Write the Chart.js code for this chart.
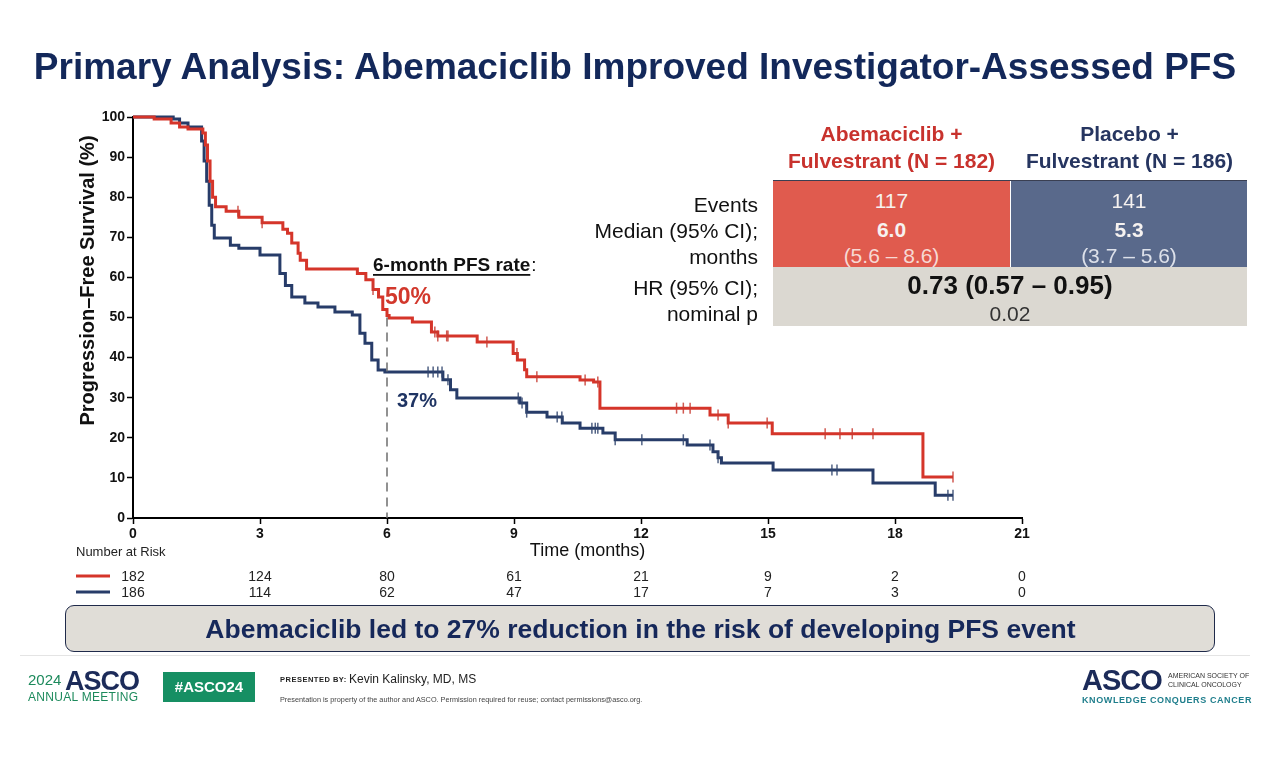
<!DOCTYPE html>
<html><head><meta charset="utf-8">
<script src="https://cdn.jsdelivr.net/npm/chart.js@4.4.1/dist/chart.umd.min.js"></script>
<style>
body{margin:0;width:1280px;height:768px;overflow:hidden;background:#fff;font-family:"Liberation Sans",Arial,sans-serif;position:relative}
#wrap{position:absolute;left:0;top:0;width:1280px;height:768px}
.a{position:absolute;white-space:nowrap}
.title{left:0;width:1270px;top:46px;text-align:center;font-weight:bold;font-size:37px;color:#13285a}
.hdr{font-weight:bold;font-size:21px;text-align:center;line-height:27px}
.lbl{right:522px;font-size:21px;color:#111;text-align:right;line-height:21px}
.cell{font-size:21px;text-align:center;line-height:21px;color:#f6f2f0}
</style></head>
<body>
<div id="wrap"><canvas id="c" width="1280" height="768"></canvas></div>

<div class="a title">Primary Analysis: Abemaciclib Improved Investigator-Assessed PFS</div>

<!-- Table -->
<div class="a hdr" style="left:773px;width:237px;top:120px;color:#c8322d">Abemaciclib +<br>Fulvestrant (N = 182)</div>
<div class="a hdr" style="left:1011px;width:237px;top:120px;color:#263560">Placebo +<br>Fulvestrant (N = 186)</div>
<div class="a" style="left:773px;top:181px;width:237px;height:86px;background:#e05b4e"></div>
<div class="a" style="left:1011px;top:181px;width:236px;height:86px;background:#59698b"></div>
<div class="a" style="left:773px;top:180px;width:474px;height:1px;background:#3a3f52"></div>
<div class="a" style="left:773px;top:267px;width:474px;height:59px;background:#dbd8d1"></div>
<div class="a lbl" style="top:194px">Events</div>
<div class="a lbl" style="top:220px">Median (95% CI);</div>
<div class="a lbl" style="top:246px">months</div>
<div class="a lbl" style="top:277px">HR (95% CI);</div>
<div class="a lbl" style="top:303px">nominal p</div>
<div class="a cell" style="left:773px;width:237px;top:190px">117</div>
<div class="a cell" style="left:773px;width:237px;top:219px;font-weight:bold">6.0</div>
<div class="a cell" style="left:773px;width:237px;top:245px;color:#f7d9d4">(5.6 – 8.6)</div>
<div class="a cell" style="left:1011px;width:236px;top:190px">141</div>
<div class="a cell" style="left:1011px;width:236px;top:219px;font-weight:bold">5.3</div>
<div class="a cell" style="left:1011px;width:236px;top:245px;color:#dde1ea">(3.7 – 5.6)</div>
<div class="a cell" style="left:773px;width:474px;top:271px;font-size:26px;line-height:28px;font-weight:bold;color:#111">0.73 (0.57 – 0.95)</div>
<div class="a cell" style="left:773px;width:474px;top:303px;color:#333">0.02</div>

<!-- Banner -->
<div class="a" style="left:65px;top:605px;width:1148px;height:45px;border:1.5px solid #1f2a4a;border-radius:9px;background:#e0ddd7"></div>
<div class="a" style="left:65px;width:1151px;top:614px;text-align:center;font-weight:bold;font-size:26.5px;color:#16285a">Abemaciclib led to 27% reduction in the risk of developing PFS event</div>
<div class="a" style="left:20px;top:655px;width:1230px;height:1px;background:#e4e4e4"></div>

<!-- Footer -->
<div class="a" style="left:28px;top:671px;font-size:15px;color:#1d8a5c">2024</div>
<div class="a" style="left:65px;top:666px;font-size:27px;font-weight:bold;color:#1c2b59;letter-spacing:-1px">ASCO</div>
<div class="a" style="left:28px;top:690px;font-size:12px;color:#1d8a5c;letter-spacing:0.3px">ANNUAL MEETING</div>
<div class="a" style="left:163px;top:672px;width:92px;height:30px;background:#168f63;color:#fff;font-weight:bold;font-size:15px;text-align:center;line-height:30px">#ASCO24</div>
<div class="a" style="left:280px;top:675px;font-size:7.5px;font-weight:bold;color:#222;letter-spacing:0.5px">PRESENTED BY:</div>
<div class="a" style="left:349px;top:672px;font-size:12px;color:#222">Kevin Kalinsky, MD, MS</div>
<div class="a" style="left:280px;top:695px;font-size:7.3px;color:#444">Presentation is property of the author and ASCO. Permission required for reuse; contact permissions@asco.org.</div>
<div class="a" style="left:1082px;top:664px;font-size:29px;font-weight:bold;color:#1c2b59;letter-spacing:-1px">ASCO</div>
<div class="a" style="left:1168px;top:671px;font-size:7px;color:#333;line-height:9px">AMERICAN SOCIETY OF<br>CLINICAL ONCOLOGY</div>
<div class="a" style="left:1082px;top:695px;font-size:9px;font-weight:bold;color:#1f7e8c;letter-spacing:0.6px">KNOWLEDGE CONQUERS CANCER</div>

<script>
// ---- Data ----
const xTicks = [0, 3, 6, 9, 12, 15, 18, 21];
const riskAbema = [182, 124, 80, 61, 21, 9, 2, 0];
const riskPlacebo = [186, 114, 62, 47, 17, 7, 3, 0];

const abemaTime = [0, 0.5, 0.9, 1.1, 1.3, 1.65, 1.71, 1.76, 1.82, 1.88, 1.95, 2.2, 2.5, 3.05, 3.54, 3.65, 3.75, 3.9, 3.95, 4.1, 5.3, 5.5, 5.67, 5.8, 5.9, 6.0, 6.05, 6.6, 7.05, 7.2, 8.13, 8.98, 9.08, 9.25, 9.3, 10.56, 10.88, 11.03, 13.63, 14.06, 15.1, 18.66, 19.37];
const abemaPFS  = [100, 99.5, 98.5, 97.5, 97, 96, 93, 89, 84, 80, 77.6, 76.5, 75, 73.6, 72, 71, 68.6, 66, 64.3, 62.1, 61, 59.4, 57, 55.1, 52, 50.5, 49.9, 48.9, 46.4, 45.4, 43.9, 41, 39.4, 37, 35.2, 34.4, 33.9, 27.4, 25.7, 23.7, 21, 10.2, 10.2];
const abemaCensor = [2.48, 3.05, 5.67, 7.13, 7.2, 7.41, 7.44, 8.36, 9.07, 9.54, 10.68, 10.98, 12.84, 13.0, 13.16, 13.82, 14.06, 14.98, 16.35, 16.7, 16.99, 17.48, 19.37];

const placeboTime = [0, 0.95, 1.1, 1.3, 1.62, 1.68, 1.74, 1.8, 1.86, 1.92, 2.3, 2.5, 3.0, 3.47, 3.6, 3.75, 4.06, 4.37, 4.77, 5.18, 5.36, 5.48, 5.64, 5.79, 5.95, 7.32, 7.5, 7.65, 9.14, 9.3, 9.78, 10.14, 10.56, 11.1, 11.39, 13.09, 13.7, 13.82, 13.9, 15.12, 17.48, 18.95, 19.37];
const placeboPFS  = [100, 99.5, 98.5, 97.5, 94, 89, 84, 78, 73, 69.8, 68, 67.3, 65.6, 61, 58, 55.1, 53.6, 52.6, 51.4, 50.6, 46.1, 43.6, 39.4, 36.9, 36.4, 34.5, 32, 29.9, 28.7, 26.4, 25.2, 23.7, 22.4, 21.2, 19.5, 18.2, 16.5, 15, 13.7, 12, 8.7, 5.7, 5.7];
const placeboCensor = [6.97, 7.09, 7.2, 7.3, 7.44, 9.1, 9.19, 9.3, 10.02, 10.13, 10.84, 10.92, 10.98, 11.39, 12.02, 13.0, 13.63, 13.82, 16.51, 16.63, 19.25, 19.37];

const landmarkMonth = 6;
const landmarkAbema = 50;
const landmarkPlacebo = 37;

// ---- Helpers ----
const ABEMA = '#d5352a';
const PLAC = '#273c69';
function stepAt(times, vals, t) {
  let v = vals[0];
  for (let i = 0; i < times.length; i++) { if (times[i] <= t) v = vals[i]; else break; }
  return v;
}
const xy = (ts, vs) => ts.map((t, i) => ({ x: t, y: vs[i] }));
const censorPts = (cs, ts, vs) => cs.map(t => ({ x: t, y: stepAt(ts, vs, t) }));

const FONT = '"Liberation Sans", Arial, sans-serif';
const NARROW = '"Liberation Sans Narrow", "Liberation Sans", Arial, sans-serif';

const overlay = {
  id: 'overlay',
  afterDraw(chart) {
    const ctx = chart.ctx, xs = chart.scales.x, ys = chart.scales.y, ca = chart.chartArea;
    ctx.save();
    // dashed landmark line
    ctx.strokeStyle = '#6e6e6e'; ctx.lineWidth = 1.5; ctx.setLineDash([9, 6]);
    ctx.beginPath();
    ctx.moveTo(xs.getPixelForValue(landmarkMonth), ys.getPixelForValue(landmarkAbema));
    ctx.lineTo(xs.getPixelForValue(landmarkMonth), ys.getPixelForValue(0));
    ctx.stroke();
    ctx.setLineDash([]);

    // annotation text
    const ax = xs.getPixelForValue(landmarkMonth);
    ctx.textBaseline = 'alphabetic'; ctx.textAlign = 'left';
    ctx.font = 'bold 19px ' + FONT; ctx.fillStyle = '#111';
    const t1 = '6-month PFS rate';
    const tx = ax - 14, ty = ys.getPixelForValue(61.6);
    ctx.fillText(t1, tx, ty);
    const w1 = ctx.measureText(t1).width;
    ctx.fillRect(tx, ty + 3, w1, 1.8);
    ctx.font = '19px ' + FONT;
    ctx.fillText(':', tx + w1 + 1, ty);
    ctx.font = 'bold 23px ' + FONT; ctx.fillStyle = '#d2382c';
    ctx.fillText(landmarkAbema + '%', ax - 2, ys.getPixelForValue(53.4));
    ctx.font = 'bold 20px ' + FONT; ctx.fillStyle = '#1f3463';
    ctx.fillText(landmarkPlacebo + '%', ax + 10, ys.getPixelForValue(27.7));

    // axis titles
    ctx.fillStyle = '#111';
    ctx.save();
    ctx.translate(88, (ca.top + ca.bottom) / 2 - 37);
    ctx.rotate(-Math.PI / 2);
    ctx.textAlign = 'center'; ctx.textBaseline = 'middle';
    ctx.font = 'bold 20px ' + FONT;
    ctx.fillText('Progression\u2013Free Survival (%)', 0, 0);
    ctx.restore();

    ctx.textAlign = 'center'; ctx.textBaseline = 'middle';
    ctx.font = '18px ' + FONT;
    ctx.fillText('Time (months)', (ca.left + ca.right) / 2 + 10, 551);

    // number at risk
    ctx.textAlign = 'left';
    ctx.font = '13px ' + NARROW; ctx.fillStyle = '#222';
    ctx.fillText('Number at Risk', 76, 552);
    ctx.lineWidth = 3;
    ctx.strokeStyle = ABEMA; ctx.beginPath(); ctx.moveTo(76, 576); ctx.lineTo(110, 576); ctx.stroke();
    ctx.strokeStyle = PLAC; ctx.beginPath(); ctx.moveTo(76, 592); ctx.lineTo(110, 592); ctx.stroke();
    ctx.textAlign = 'center'; ctx.font = '14px ' + NARROW;
    xTicks.forEach((t, i) => {
      const px = xs.getPixelForValue(t);
      ctx.fillText(String(riskAbema[i]), px, 577);
      ctx.fillText(String(riskPlacebo[i]), px, 593);
    });
    ctx.restore();
  }
};

new Chart(document.getElementById('c'), {
  type: 'line',
  data: {
    datasets: [
      { data: censorPts(abemaCensor, abemaTime, abemaPFS), showLine: false, pointStyle: 'line', rotation: 90, pointRadius: 5.5, pointBorderWidth: 1.5, pointBorderColor: 'rgba(200,60,50,0.85)', borderColor: ABEMA, clip: false },
      { data: xy(abemaTime, abemaPFS), stepped: 'before', borderColor: ABEMA, borderWidth: 3, pointRadius: 0, fill: false, clip: false },
      { data: censorPts(placeboCensor, placeboTime, placeboPFS), showLine: false, pointStyle: 'line', rotation: 90, pointRadius: 5.5, pointBorderWidth: 1.5, pointBorderColor: 'rgba(50,70,110,0.85)', borderColor: PLAC, clip: false },
      { data: xy(placeboTime, placeboPFS), stepped: 'before', borderColor: PLAC, borderWidth: 3, pointRadius: 0, fill: false, clip: false }
    ]
  },
  options: {
    responsive: false,
    animation: false,
    events: [],
    layout: { padding: { left: 83, top: 117, right: 258, bottom: 210 } },
    plugins: { legend: { display: false }, tooltip: { enabled: false } },
    scales: {
      x: {
        type: 'linear', min: 0, max: 21,
        ticks: { stepSize: 3, maxRotation: 0, autoSkip: false, padding: 2, color: '#111', font: { family: FONT, size: 14, weight: 'bold' } },
        grid: { drawOnChartArea: false, drawTicks: true, tickLength: 6, tickColor: '#000', tickWidth: 1.5 },
        border: { color: '#000', width: 2 },
        afterFit(s) { s.height = 40; s.paddingLeft = 0; s.paddingRight = 0; }
      },
      y: {
        min: 0, max: 100,
        ticks: { stepSize: 10, padding: 2, color: '#111', font: { family: FONT, size: 14, weight: 'bold' } },
        grid: { drawOnChartArea: false, drawTicks: true, tickLength: 6, tickColor: '#000', tickWidth: 1.5 },
        border: { color: '#000', width: 2 },
        afterFit(s) { s.width = 50; s.paddingTop = 0; s.paddingBottom = 0; }
      }
    }
  },
  plugins: [overlay]
});
</script>
</body></html>
